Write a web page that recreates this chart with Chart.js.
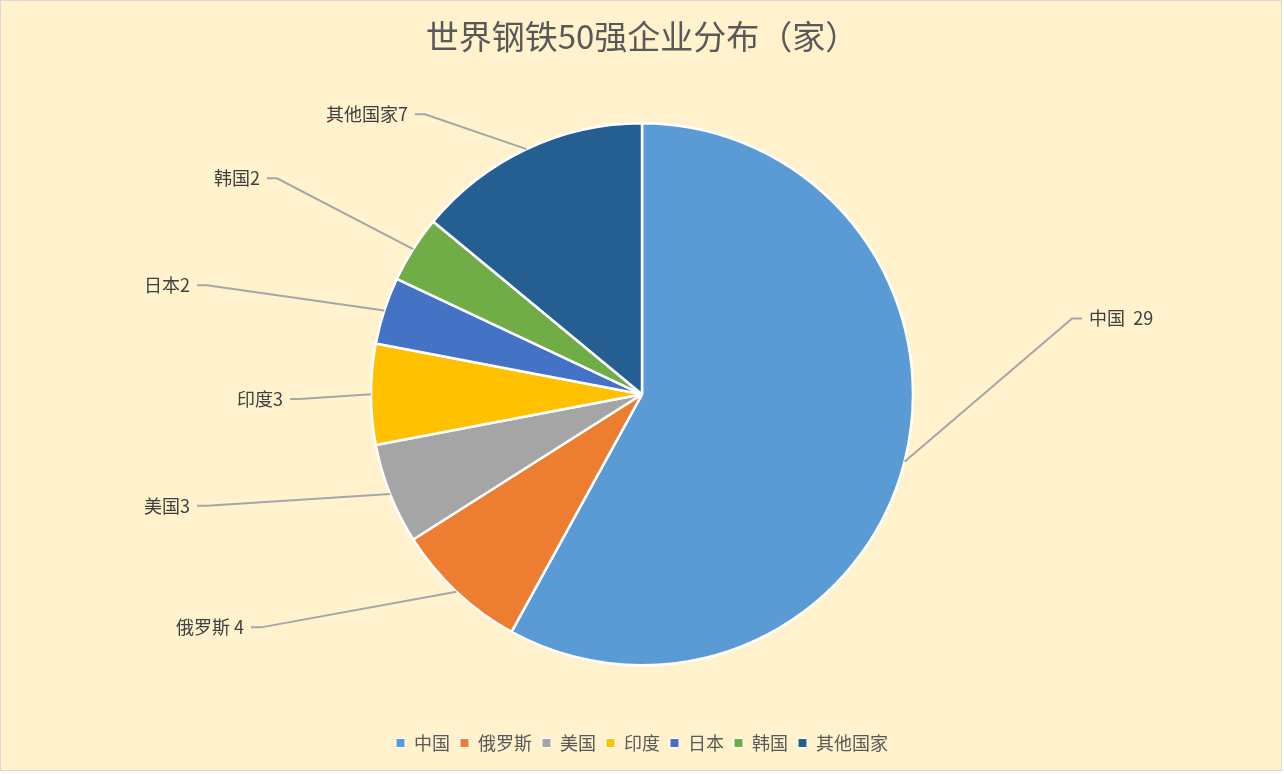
<!DOCTYPE html>
<html>
<head>
<meta charset="utf-8">
<script src="https://cdn.jsdelivr.net/npm/chart.js@4.4.1/dist/chart.umd.min.js"></script>
<style>
  body { margin: 0; background: #ffffff; }
  canvas { display: block; }
</style>
</head>
<body>
<canvas id="myChart" width="1284" height="774"></canvas>
<script>
// 数据
const categories = ['中国', '俄罗斯', '美国', '印度', '日本', '韩国', '其他国家'];
const companyCounts = [29, 4, 3, 3, 2, 2, 7];
const labelSeparators = ['  ', ' ', '', '', '', '', ''];
const sliceColors = ['#5B9BD5', '#ED7D31', '#A5A5A5', '#FFC000', '#4472C4', '#70AD47', '#255E91'];

const FONT = '"Noto Sans CJK SC", "Noto Sans", sans-serif';

// 背景和边框
const backgroundPlugin = {
    id: 'bg',
    beforeDraw(chart) {
        const ctx = chart.ctx;
        ctx.save();
        ctx.fillStyle = '#FFF2CC';
        ctx.fillRect(0, 0, 1282, 771);
        ctx.strokeStyle = '#D9D9D9';
        ctx.lineWidth = 1;
        ctx.strokeRect(0.5, 0.5, 1281, 770);
        ctx.restore();
    }
};

// 引导线标签
const leaderLabels = {
    id: 'leaderLabels',
    afterDatasetsDraw(chart, args, opts) {
        const ctx = chart.ctx;
        const meta = chart.getDatasetMeta(0);
        ctx.save();
        ctx.font = opts.font;
        ctx.textBaseline = 'middle';
        meta.data.forEach((arc, i) => {
            const p = arc.getProps(['x', 'y', 'startAngle', 'endAngle', 'outerRadius'], true);
            const mid = (p.startAngle + p.endAngle) / 2;
            const sx = p.x + Math.cos(mid) * p.outerRadius;
            const sy = p.y + Math.sin(mid) * p.outerRadius;
            const a = opts.anchors[i];
            const ex = p.x + a[0] * p.outerRadius;
            const ey = p.y + a[1] * p.outerRadius;
            const dir = a[0] < 0 ? -1 : 1;
            ctx.strokeStyle = '#A6A6A6';
            ctx.lineWidth = 2;
            ctx.beginPath();
            ctx.moveTo(sx, sy);
            ctx.lineTo(ex, ey);
            ctx.lineTo(ex + dir * 10, ey);
            ctx.stroke();
            ctx.fillStyle = '#404040';
            ctx.textAlign = dir < 0 ? 'right' : 'left';
            const text = categories[i] + labelSeparators[i] + companyCounts[i];
            ctx.fillText(text, ex + dir * 17, ey);
        });
        ctx.restore();
    }
};

const ctx = document.getElementById('myChart').getContext('2d');
new Chart(ctx, {
    type: 'pie',
    data: {
        labels: categories,
        datasets: [{
            data: companyCounts,
            backgroundColor: sliceColors,
            borderColor: '#FFFFFF',
            borderWidth: 2.5,
            radius: 271
        }]
    },
    options: {
        responsive: false,
        animation: false,
        events: [],
        layout: { padding: { top: 0, bottom: 12, left: 0, right: 0 } },
        plugins: {
            title: {
                display: true,
                text: '世界钢铁50强企业分布（家）',
                color: '#595959',
                font: { family: FONT, size: 33, weight: 'normal' },
                padding: { top: 17, bottom: 8 }
            },
            legend: {
                position: 'bottom',
                labels: {
                    color: '#595959',
                    font: { family: FONT, size: 18 },
                    boxWidth: 9,
                    boxHeight: 9,
                    padding: 10,
                    generateLabels(chart) {
                        const items = Chart.overrides.pie.plugins.legend.labels.generateLabels(chart);
                        items.forEach(it => { it.lineWidth = 1; });
                        return items;
                    }
                }
            },
            tooltip: { enabled: false },
            leaderLabels: {
                font: '18px ' + FONT,
                anchors: [
                    [1.587, -0.280],
                    [-1.406, 0.860],
                    [-1.605, 0.411],
                    [-1.262, 0.017],
                    [-1.605, -0.402],
                    [-1.347, -0.797],
                    [-0.801, -1.033]
                ]
            }
        }
    },
    plugins: [backgroundPlugin, leaderLabels]
});
</script>
</body>
</html>
